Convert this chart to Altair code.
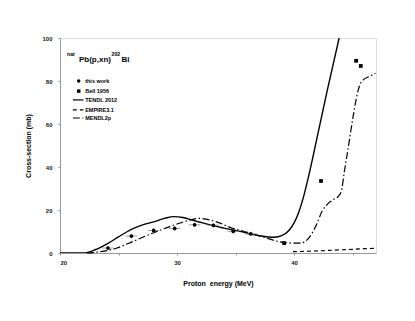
import altair as alt
import pandas as pd

# ---- data ----
tendl_x = [20, 22, 23, 24.1, 25, 26.1, 27, 28, 29, 29.7, 30.5, 31.3, 32.2, 33.1, 34, 34.8, 35.6, 36.3, 37.2, 38.2, 38.9, 39.6, 40.0, 40.4, 40.8, 41.3, 41.9, 42.85, 43.85]
tendl_y = [0, 0, 1.5, 4.5, 7.5, 11, 13, 14.5, 16.2, 16.9, 16.5, 15.3, 14, 12.7, 11.6, 10.7, 9.8, 8.8, 7.9, 7.3, 8, 10.7, 14, 19, 26, 37, 52, 76, 100]

mendl_x = [22.3, 22.8, 24.8, 26.2, 27.9, 29.9, 31, 31.9, 33.3, 34.75, 36.3, 37.5, 38.7, 39.5, 40.1, 40.6, 41.0, 41.4, 41.9, 42.4, 42.9, 43.4, 43.8, 44.05, 44.3, 44.6, 45.0, 45.4, 45.6, 45.9, 46.4, 46.95]
mendl_y = [0, 0.2, 2.2, 5.3, 9.2, 13.3, 15.2, 16.1, 14.6, 11.5, 9.2, 7.2, 5.3, 4.7, 4.6, 4.6, 5.6, 8.0, 13.0, 19.5, 23, 25, 26.5, 29, 38, 48, 62, 74, 78, 80.5, 82, 83.6]

empire_x = [39.9, 41, 42, 43, 44, 45, 46, 47]
empire_y = [0.6, 0.8, 1.0, 1.2, 1.5, 1.7, 2.0, 2.2]

work_x = [24.1, 26.1, 28.0, 29.8, 31.5, 33.1, 34.8, 36.3]
work_y = [2.3, 7.9, 10.5, 11.4, 13.1, 12.9, 10.1, 8.9]
work_dx = [0.5, 0.5, 0.5, 0.5, 0.5, 0.5, 0.5, 0.5]
work_dy = [0.9, 1.0, 1.0, 1.0, 1.0, 1.0, 1.0, 1.0]

bell_x = [39.15, 42.3, 45.3, 45.7]
bell_y = [4.6, 33.5, 89.4, 87.0]

FONT = "Liberation Sans"

xs = alt.Scale(domain=[20, 47], nice=False, clamp=False)
ys = alt.Scale(domain=[0, 100], nice=False)

xax = alt.Axis(values=[20, 25, 30, 35, 40, 45],
               labelExpr="datum.value % 10 == 0 ? datum.label : ''",
               title="Proton\u00a0\u00a0energy (MeV)", grid=False,
               domainColor="#999999", tickColor="#999999", tickSize=2,
               labelFont=FONT, labelFontSize=6, labelFontWeight="bold", labelColor="#222222",
               labelPadding=4,
               titleFont=FONT, titleFontSize=7, titleFontWeight="bold", titleColor="#000000",
               titlePadding=14)
yax = alt.Axis(values=[0, 20, 40, 60, 80, 100], title="Cross-section (mb)", grid=False,
               domainColor="#999999", tickColor="#999999", tickSize=2,
               labelFont=FONT, labelFontSize=6, labelFontWeight="bold", labelColor="#222222",
               labelPadding=6,
               titleFont=FONT, titleFontSize=7, titleFontWeight="bold", titleColor="#000000",
               titlePadding=10)

tendl = pd.DataFrame({"x": tendl_x, "y": tendl_y})
mendl = pd.DataFrame({"x": mendl_x, "y": mendl_y})
empire = pd.DataFrame({"x": empire_x, "y": empire_y})
work = pd.DataFrame({"x": work_x, "y": work_y,
                     "x1": [a - b for a, b in zip(work_x, work_dx)],
                     "x2": [a + b for a, b in zip(work_x, work_dx)],
                     "y1": [a - b for a, b in zip(work_y, work_dy)],
                     "y2": [a + b for a, b in zip(work_y, work_dy)]})
bell = pd.DataFrame({"x": bell_x, "y": bell_y})

base_axes = alt.Chart(tendl).mark_line(color="black", strokeWidth=1.4, clip=True,
                                       interpolate="monotone").encode(
    x=alt.X("x:Q", scale=xs, axis=xax),
    y=alt.Y("y:Q", scale=ys, axis=yax))

mendl_l = alt.Chart(mendl).mark_line(color="black", strokeWidth=1.2, strokeDash=[7, 2.5, 1.5, 2.5],
                                     interpolate="monotone").encode(
    x=alt.X("x:Q", scale=xs), y=alt.Y("y:Q", scale=ys))
empire_l = alt.Chart(empire).mark_line(color="black", strokeWidth=1.2, strokeDash=[4, 3]).encode(
    x=alt.X("x:Q", scale=xs), y=alt.Y("y:Q", scale=ys))

ebx = alt.Chart(work).mark_rule(color="#888888", strokeWidth=0.8).encode(
    x=alt.X("x1:Q", scale=xs), x2="x2:Q", y=alt.Y("y:Q", scale=ys))
eby = alt.Chart(work).mark_rule(color="#888888", strokeWidth=0.8).encode(
    x=alt.X("x:Q", scale=xs), y=alt.Y("y1:Q", scale=ys), y2="y2:Q")
pts = alt.Chart(work).mark_point(shape="circle", filled=True, color="black", size=14, opacity=1).encode(
    x=alt.X("x:Q", scale=xs), y=alt.Y("y:Q", scale=ys))
bell_p = alt.Chart(bell).mark_point(shape="square", filled=True, color="black", size=14, opacity=1).encode(
    x=alt.X("x:Q", scale=xs), y=alt.Y("y:Q", scale=ys))

# ---- legend ----
leg_labels = ["this work", "Bell 1956", "TENDL 2012", "EMPIRE3.1", "MENDL2p"]
leg_y = [80, 75.3, 71.2, 66.6, 62.8]
leg_df = pd.DataFrame({"label": leg_labels, "y": leg_y, "tx": [22.15] * 5})
leg_text = alt.Chart(leg_df).mark_text(align="left", baseline="middle", font=FONT, fontSize=5.5,
                                       fontWeight="bold", color="black").encode(
    x=alt.X("tx:Q", scale=xs), y=alt.Y("y:Q", scale=ys), text="label:N")
leg_c = alt.Chart(pd.DataFrame({"x": [21.6], "y": [leg_y[0]]})).mark_point(
    shape="circle", filled=True, color="black", size=12, opacity=1).encode(
    x=alt.X("x:Q", scale=xs), y=alt.Y("y:Q", scale=ys))
leg_s = alt.Chart(pd.DataFrame({"x": [21.6], "y": [leg_y[1]]})).mark_point(
    shape="square", filled=True, color="black", size=12, opacity=1).encode(
    x=alt.X("x:Q", scale=xs), y=alt.Y("y:Q", scale=ys))

def leg_line(yv, dash):
    df = pd.DataFrame({"x": [21.1], "x2": [22.0], "y": [yv]})
    kw = {"color": "black", "strokeWidth": 1.2}
    if dash:
        kw["strokeDash"] = dash
    return alt.Chart(df).mark_rule(**kw).encode(
        x=alt.X("x:Q", scale=xs), x2="x2:Q", y=alt.Y("y:Q", scale=ys))

leg_l1 = leg_line(leg_y[2], None)
leg_l2 = leg_line(leg_y[3], [4, 3])
leg_l3 = leg_line(leg_y[4], [7, 2.5, 1.5, 2.5])

# ---- title annotation ----
t_parts = ["nat", "Pb(p,xn)", "202", "Bi"]
t_x = [20.6, 21.62, 24.4, 25.25]
t_y = [91.5, 89.0, 91.5, 89.0]
t_size = [5.2, 8, 5.2, 8]
title_df = pd.DataFrame({"t": t_parts, "x": t_x, "y": t_y, "s": t_size})
title_t = alt.Chart(title_df).mark_text(align="left", baseline="alphabetic", font=FONT,
                                        fontWeight="bold", color="black").encode(
    x=alt.X("x:Q", scale=xs), y=alt.Y("y:Q", scale=ys), text="t:N",
    size=alt.Size("s:Q", scale=None, legend=None))

chart = alt.layer(base_axes, empire_l, mendl_l, ebx, eby, pts, bell_p,
                  leg_text, leg_c, leg_s, leg_l1, leg_l2, leg_l3, title_t).properties(
    width=316, height=215,
    autosize=alt.AutoSizeParams(type="none"),
    padding={"left": 52, "top": 30, "right": 23, "bottom": 60},
).configure_view(stroke="#aaaaaa", strokeWidth=1).configure(background="white")

chart.save("out.html", embed_options={"renderer": "svg", "actions": False})
